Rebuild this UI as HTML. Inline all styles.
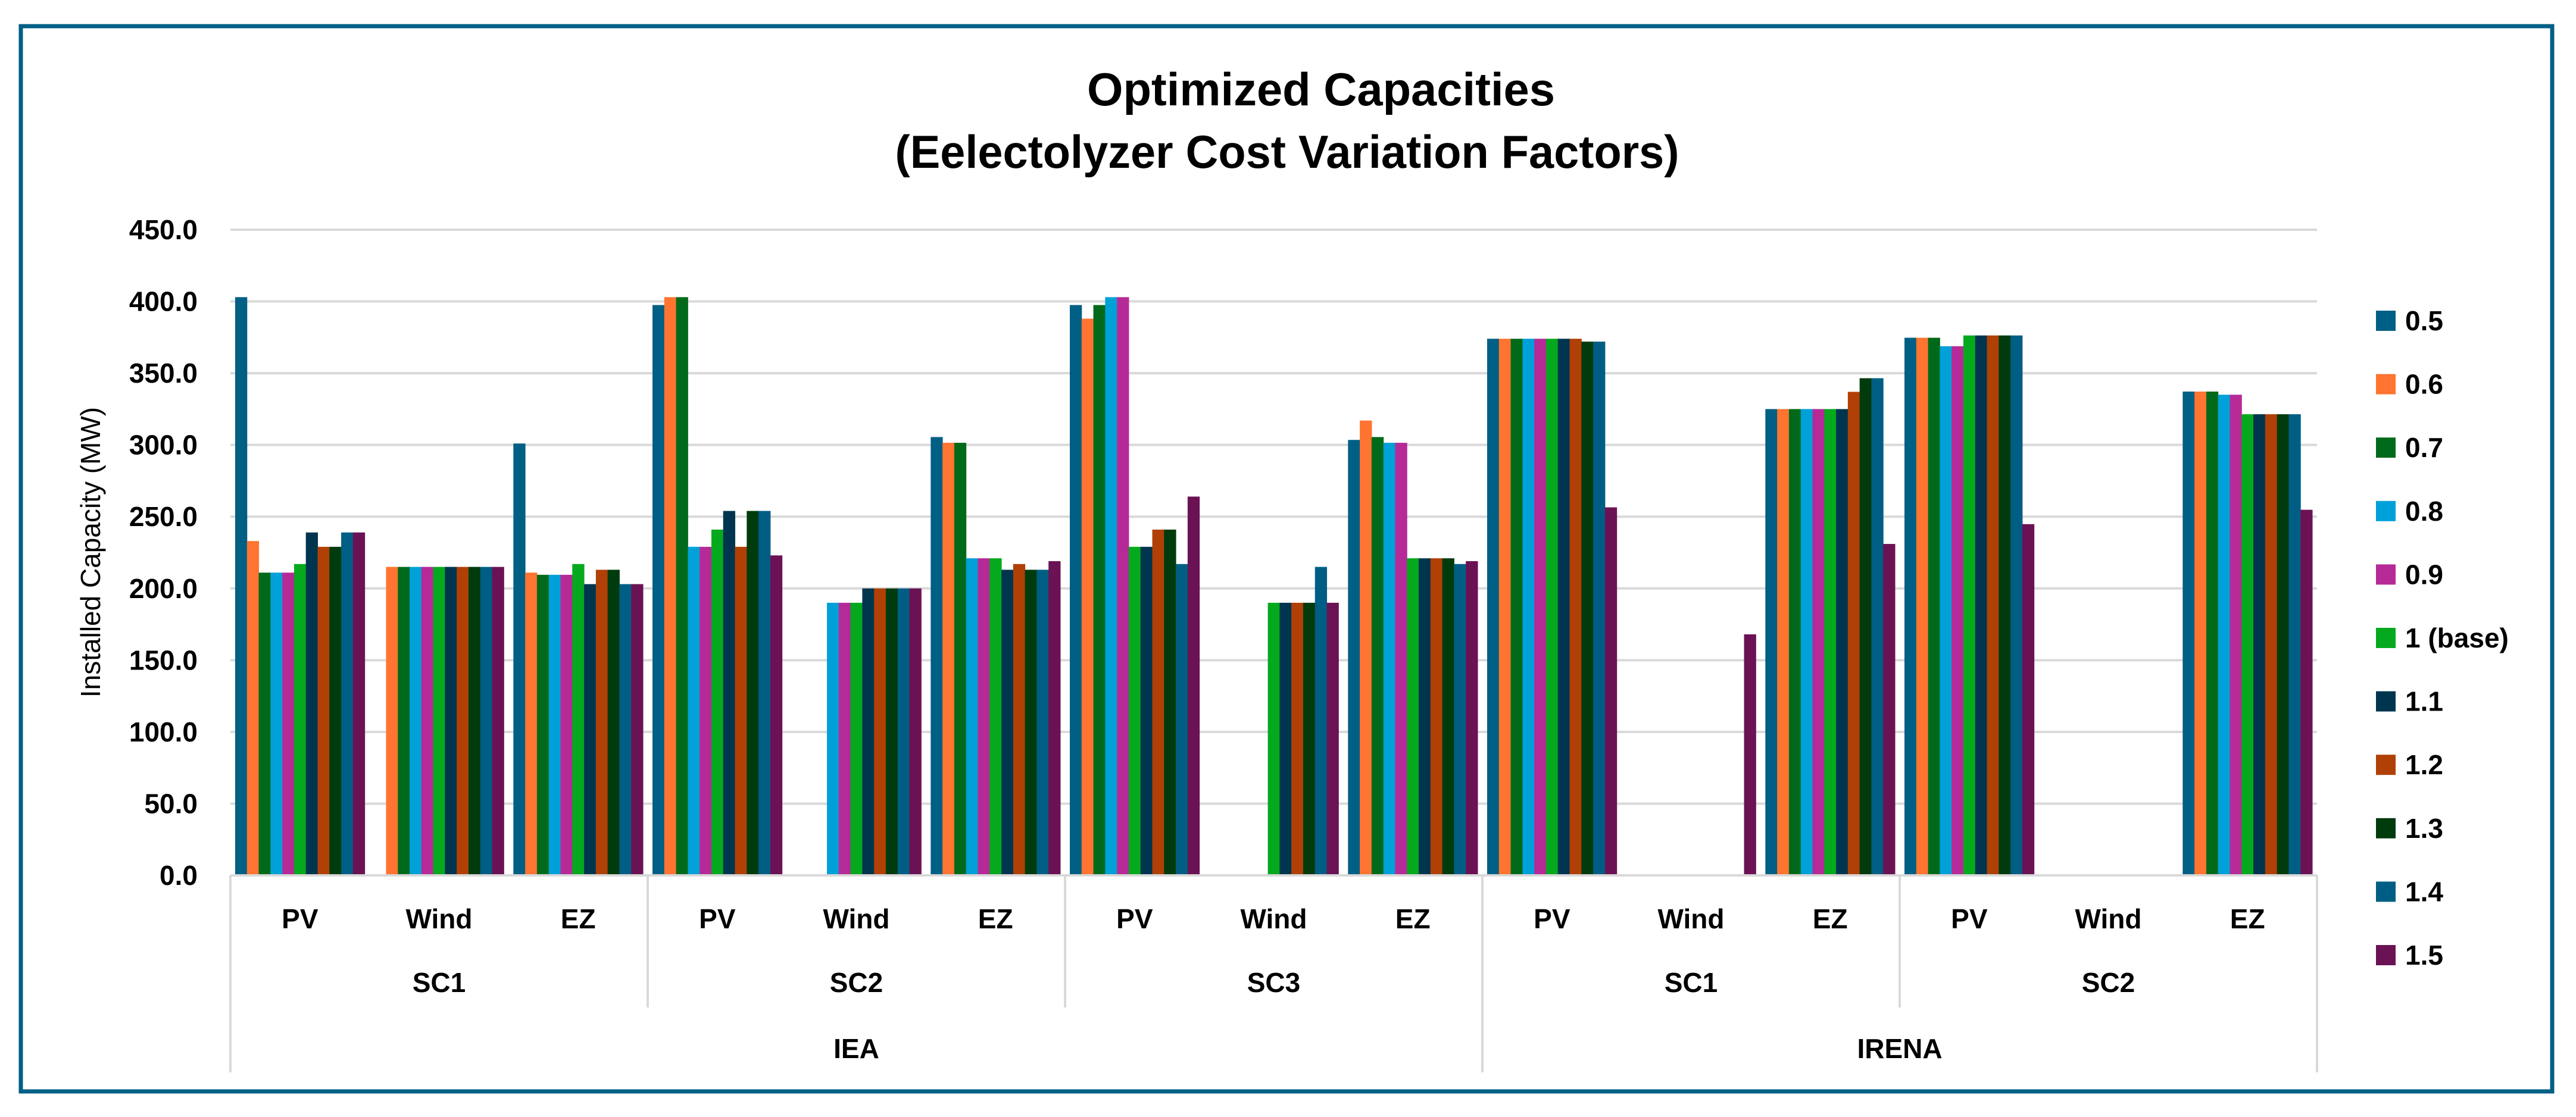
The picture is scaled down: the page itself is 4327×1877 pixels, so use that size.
<!DOCTYPE html>
<html><head><meta charset="utf-8"><style>
html,body{margin:0;padding:0;background:#fff;}
svg{display:block;font-family:"Liberation Sans",sans-serif;}
</style></head><body>
<svg id="chart" width="4327" height="1877" viewBox="0 0 4327 1877">
<rect x="35" y="44" width="4252" height="1790" fill="#fff" stroke="#005F86" stroke-width="7"/>
<text x="2219" y="177" font-size="78" font-weight="bold" text-anchor="middle" textLength="786" lengthAdjust="spacingAndGlyphs">Optimized Capacities</text>
<text x="2162" y="282" font-size="78" font-weight="bold" text-anchor="middle" textLength="1317" lengthAdjust="spacingAndGlyphs">(Eelectolyzer Cost Variation Factors)</text>
<g id="grid"></g><g id="bars"></g><g id="xaxis"></g><g id="yaxis"></g><g id="legend"></g>
<text transform="translate(168,928) rotate(-90)" font-size="46" text-anchor="middle">Installed Capacity (MW)</text>
</svg>
<script>
const series = ["0.5","0.6","0.7","0.8","0.9","1 (base)","1.1","1.2","1.3","1.4","1.5"];
const colors = ["#005F84","#FF7430","#006A1A","#00A0D8","#B62A98","#05A91D","#00354F","#B04005","#003B0D","#005E84","#6B1255"];
const categories = ["PV","Wind","EZ","PV","Wind","EZ","PV","Wind","EZ","PV","Wind","EZ","PV","Wind","EZ"];
const scenarios = ["SC1","SC2","SC3","SC1","SC2"];
const sources = ["IEA","IRENA"];
const sourceSpans = [3,2];
const yTicks = [0,50,100,150,200,250,300,350,400,450];
const iea_sc1_pv   = [403,233,211,211,211,217,239,229,229,239,239];
const iea_sc1_wind = [0,215,215,215,215,215,215,215,215,215,215];
const iea_sc1_ez   = [301,211,209.5,209.5,209.5,217,203,213,213,203,203];
const iea_sc2_pv   = [397.5,403,403,229,229,241,254,229,254,254,223];
const iea_sc2_wind = [0,0,0,190,190,190,200,200,200,200,200];
const iea_sc2_ez   = [305.5,301.5,301.5,221,221,221,213,217,213,213,219];
const iea_sc3_pv   = [397.5,388,397.5,403,403,229,229,241,241,217,264];
const iea_sc3_wind = [0,0,0,0,0,190,190,190,190,215,190];
const iea_sc3_ez   = [303.5,317,305.5,301.5,301.5,221,221,221,221,217,219];
const irena_sc1_pv   = [374,374,374,374,374,374,374,374,372,372,256.5];
const irena_sc1_wind = [0,0,0,0,0,0,0,0,0,0,168];
const irena_sc1_ez   = [325,325,325,325,325,325,325,337,346.5,346.5,231];
const irena_sc2_pv   = [374.7,374.7,374.7,368.8,368.8,376.3,376.3,376.3,376.3,376.3,244.8];
const irena_sc2_wind = [0,0,0,0,0,0,0,0,0,0,0];
const irena_sc2_ez   = [337.2,337.2,337.2,335,335,321.4,321.4,321.4,321.4,321.4,254.8];
const values = [iea_sc1_pv,iea_sc1_wind,iea_sc1_ez,iea_sc2_pv,iea_sc2_wind,iea_sc2_ez,iea_sc3_pv,iea_sc3_wind,iea_sc3_ez,irena_sc1_pv,irena_sc1_wind,irena_sc1_ez,irena_sc2_pv,irena_sc2_wind,irena_sc2_ez];

const NS="http://www.w3.org/2000/svg";
const X0=387,X1=3892,Y0=1471,YT=386,YMAX=450;
const catW=(X1-X0)/categories.length;
function y(v){return Y0-(v/YMAX)*(Y0-YT);}
function xc(i){return X0+i*catW;}
function mk(tag,attrs,parent){const e=document.createElementNS(NS,tag);for(const k in attrs)e.setAttribute(k,attrs[k]);parent.appendChild(e);return e;}
const grid=document.getElementById('grid'),bars=document.getElementById('bars'),xa=document.getElementById('xaxis'),ya=document.getElementById('yaxis'),lg=document.getElementById('legend');

yTicks.forEach(t=>{
  const l=mk('line',{x1:X0,x2:X1,y1:y(t),y2:y(t),stroke:'#D9D9D9','stroke-width':4},grid);
  
  
  const tx=mk('text',{x:332,y:y(t)+16,'font-size':46,'font-weight':'bold','text-anchor':'end'},ya);
  tx.textContent=t.toFixed(1);
  
  
});

const pad=8, bw=(catW-2*pad)/series.length;
values.forEach((arr,ci)=>{
  arr.forEach((v,si)=>{
    if(v<=0) return;
    const r=mk('rect',{x:xc(ci)+pad+si*bw,y:y(v),width:bw+0.5,height:Y0-y(v),fill:colors[si]},bars);
    
    
  });
});

// axis lines
mk('line',{x1:X0,x2:X1,y1:Y0,y2:Y0,stroke:'#D9D9D9','stroke-width':4},xa);
categories.forEach((c,i)=>{
  const t=mk('text',{x:xc(i)+catW/2,y:1560,'font-size':46,'font-weight':'bold','text-anchor':'middle'},xa);
  t.textContent=c;
  
  
});
scenarios.forEach((s,i)=>{
  const t=mk('text',{x:xc(i*3)+1.5*catW,y:1667,'font-size':46,'font-weight':'bold','text-anchor':'middle'},xa);
  t.textContent=s;
  
  
});
for(let i=0;i<=scenarios.length;i++){
  const big=(i===0||i===3||i===5);
  const l=mk('line',{x1:xc(i*3),x2:xc(i*3),y1:Y0,y2:big?1802:1693,stroke:'#D9D9D9','stroke-width':4},xa);
  
  
}
let start=0;
sources.forEach((s,i)=>{
  const n=sourceSpans[i]*3;
  const t=mk('text',{x:xc(start)+n*catW/2,y:1778,'font-size':46,'font-weight':'bold','text-anchor':'middle'},xa);
  t.textContent=s;
  
  
  start+=n;
});

series.forEach((s,i)=>{
  const cy=539+i*106.6;
  const r=mk('rect',{x:3991,y:cy-17,width:33,height:34,fill:colors[i]},lg);
  
  
  const t=mk('text',{x:4040,y:cy+16,'font-size':46,'font-weight':'bold'},lg);
  t.textContent=s;
  
  
});
</script>
</body></html>
